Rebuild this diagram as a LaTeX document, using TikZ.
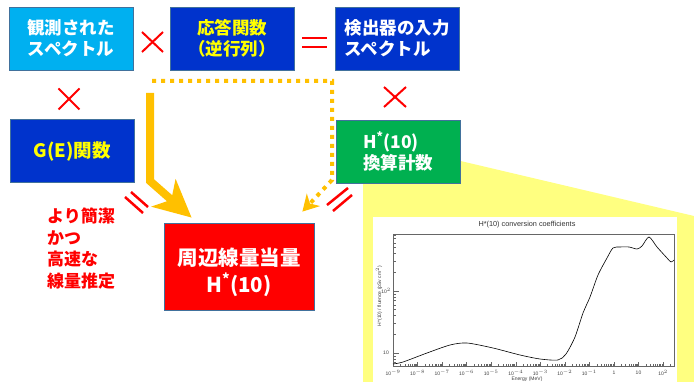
\documentclass[tikz,border=0pt]{standalone}
\usepackage{fontspec}
\setmainfont{Noto Sans CJK JP}
\newfontfamily\chartfont{Liberation Sans}
\usetikzlibrary{arrows.meta,calc}
\definecolor{lblue}{HTML}{00B0F0}
\definecolor{dblue}{HTML}{0033CC}
\definecolor{grn}{HTML}{00B050}
\definecolor{rd}{HTML}{FF0000}
\definecolor{ylw}{HTML}{FFFF00}
\definecolor{org}{HTML}{FFC000}
\definecolor{pale}{HTML}{FFFF80}
\definecolor{edge}{HTML}{41719C}
\tikzset{
  box/.style={draw=edge, line width=0.8pt, minimum width=124pt, minimum height=63pt,
    inner sep=0pt, align=center, font=\bfseries\fontsize{17.5}{21}\selectfont},
  opmark/.style={draw=rd, line width=2pt},
  eqmark/.style={draw=rd, line width=2.5pt},
  chartlab/.style={font=\chartfont\fontsize{5}{5.5}\selectfont, text=black!75, inner sep=0pt},
  tickline/.style={draw=black!60, line width=0.4pt},
}
\begin{document}
\begin{tikzpicture}[x=1pt,y=-1pt]
\useasboundingbox (0,0) rectangle (694,382);
% zoom polygon
\fill[pale] (363,138) -- (694,216) -- (694,382) -- (363,382) -- cycle;
% chart
\fill[white] (373,217) rectangle (677,382);
\node[font=\chartfont\fontsize{7.3}{8}\selectfont, text=black!80] (ctitle) at (527,224.5) {H*(10) conversion coefficients};
\draw[black!60, line width=0.6pt] (393,234) rectangle (674,366);
\foreach \d in {-9,...,2} {
  \pgfmathsetmacro\xx{393+24.55*(\d+9)}
  \draw[tickline] (\xx,366) -- (\xx,361.5);
  \foreach \m in {2,...,9} {
    \pgfmathsetmacro\xm{393+24.55*(\d+9+log10(\m))}
    \pgfmathparse{\xm<673 ? 1 : 0}
    \ifnum\pgfmathresult=1 \draw[tickline] (\xm,366) -- (\xm,363.5); \fi
  }
}
\foreach \lab/\d in {10$^{-9}$/-9,10$^{-8}$/-8,10$^{-7}$/-7,10$^{-6}$/-6,10$^{-5}$/-5,10$^{-4}$/-4,10$^{-3}$/-3,10$^{-2}$/-2,10$^{-1}$/-1,1/0,10/1,10$^{2}$/2}{
  \pgfmathsetmacro\xx{393+24.55*(\d+9)}
  \node[chartlab] at (\xx,373) {\lab};
}
\node[chartlab] (xlab) at (527,379.5) {Energy (MeV)};
% y ticks
\foreach \v in {7,8,9,10,20,30,40,50,60,70,80,90,100,200,300,400,500,600,700,800} {
  \pgfmathsetmacro\yy{353-62*(log10(\v)-1)}
  \draw[tickline] (393,\yy) -- (396,\yy);
}
\draw[tickline] (393,353) -- (399,353);
\draw[tickline] (393,291) -- (399,291);
\node[chartlab] at (386,353) {10};
\node[chartlab] at (386,291) {10$^{2}$};
\node[chartlab, rotate=90] (ylab) at (379,296) {H*(10) / fluence (pSv cm$^{2}$)};
\draw[black, line width=0.6pt] plot[smooth, tension=0.45] coordinates {
  (393,364) (403,362) (427,353) (450,345) (467,343) (493,348) (520,355) (540,359)
  (558,360) (566,354) (575,337) (583,313) (590,297) (598,275) (607,258) (613,248)
  (620,247) (629,247) (637,249) (642,246) (649,237) (657,247) (667,258) (671,262) (674,260)};
% boxes
\node[box, fill=lblue, text=white] (obs) at (71,38.5) {観測された\\スペクトル};
\node[box, fill=dblue, text=ylw] (resp) at (232,38.5) {応答関数\\（逆行列）};
\node[box, fill=dblue, text=white, align=left] (inp) at (397,38.5) {検出器の入力\\スペクトル};
\node[box, fill=dblue, text=ylw, font=\bfseries\fontsize{18.5}{21}\selectfont] (ge) at (72,151) {G(E)関数};
\node[box, fill=grn, text=white, align=left] (hconv) at (398,151.5) {H\textsuperscript{*}(10)\\換算計数};
\node[box, fill=rd, minimum width=150pt, minimum height=87pt] (dose) at (239,266.5) {};
\node[text=white, align=center, inner sep=0pt,
  font=\bfseries\fontsize{20.5}{27}\selectfont] (dosetxt) at (239,272) {周辺線量当量\\H\textsuperscript{*}(10)};
\node[anchor=north west, inner sep=0pt, align=left, text=rd,
  font=\bfseries\fontsize{17}{21.5}\selectfont] (note) at (47,208) {より簡潔\\かつ\\高速な\\線量推定};
% operators
\draw[opmark] (142,32) -- (163,52) (142,52) -- (163,32);
\draw[opmark] (58.5,88.5) -- (79.5,109.5) (58.5,109.5) -- (79.5,88.5);
\draw[opmark] (384,87) -- (406,107) (384,107) -- (406,87);
\draw[eqmark] (302,38) -- (327,38) (302,47) -- (327,47);
\draw[eqmark] (125,197) -- (143,213) (131,192) -- (148,207);
\draw[eqmark] (348,188) -- (327,205) (352,195) -- (333,211);
% arrows
\coordinate (a1) at (150,93);
\coordinate (a2) at (150,181);
\draw[org, line width=8pt, -{Stealth[length=37pt,width=36pt,inset=10pt]}]
  (a1) -- (a2) -- ($(dose.north west)+(28,-5)$);
\coordinate (d1) at (152,81);
\coordinate (d2) at (332,81);
\coordinate (d3) at (332,180);
\draw[org, line width=4pt, dash pattern=on 4pt off 5pt, -{Stealth[length=16pt,width=18pt,inset=5pt]}]
  (d1) -- (d2) -- (d3) -- ($(dose.north east)+(-12,-11)$);
\end{tikzpicture}
\end{document}
